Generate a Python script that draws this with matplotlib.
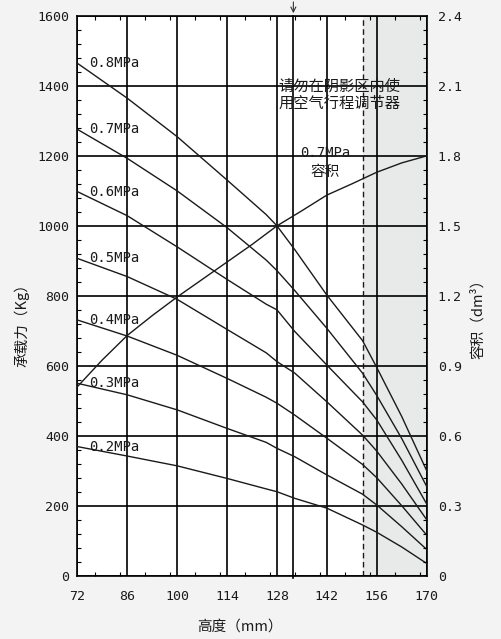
"""
Air spring load chart: load (Kg) vs height (mm) for several pressures,
plus the 0.7MPa volume curve on the right axis (dm³).
"""
import numpy as np
import matplotlib

matplotlib.use("Agg")
import matplotlib.pyplot as plt
from matplotlib.ticker import MultipleLocator

CJK = ["Noto Sans CJK SC", "DejaVu Sans"]
MONO = "DejaVu Sans Mono"

# Height samples (mm) shared by all load curves
heights = [72, 86, 100, 114, 125, 128, 133, 142, 152, 156, 163, 170]

# Load (Kg) per pressure
pressures = ["0.8MPa", "0.7MPa", "0.6MPa", "0.5MPa", "0.4MPa", "0.3MPa", "0.2MPa"]
load_08 = [1465, 1365, 1255, 1131, 1032, 1000, 932, 802, 672, 595, 455, 300]
load_07 = [1276, 1193, 1100, 995, 902, 872, 815, 707, 579, 515, 392, 255]
load_06 = [1098, 1029, 940, 847, 776, 760, 698, 602, 497, 445, 330, 205]
load_05 = [907, 855, 790, 704, 637, 612, 579, 497, 402, 356, 262, 160]
load_04 = [731, 685, 630, 564, 510, 493, 459, 393, 318, 280, 200, 116]
load_03 = [550, 517, 474, 421, 381, 364, 340, 288, 233, 202, 140, 75]
load_02 = [369, 342, 314, 278, 248, 240, 221, 193, 145, 124, 82, 35]
loads = [load_08, load_07, load_06, load_05, load_04, load_03, load_02]

# Volume curve at 0.7MPa (dm³)
vol_heights = [72, 79, 86, 93, 100, 107, 114, 121, 128, 135, 142, 149, 156, 163, 170]
volume = [0.81, 0.925, 1.03, 1.115, 1.195, 1.27, 1.345, 1.42, 1.50, 1.565,
          1.632, 1.68, 1.73, 1.77, 1.80]

x_ticks = [72, 86, 100, 114, 128, 142, 156, 170]
load_ticks = [0, 200, 400, 600, 800, 1000, 1200, 1400, 1600]
vol_ticks = [0, 0.3, 0.6, 0.9, 1.2, 1.5, 1.8, 2.1, 2.4]

stroke_limit = 152      # start of the shaded "do not use" zone
design_height = 132.6   # marked with the arrow at the top

note = "请勿在阴影区内使\n用空气行程调节器"

BG = "#f3f3f3"
SHADE = "#e8e9e9"
INK = "#1a1a1a"

fig = plt.figure(figsize=(5.02, 6.39), dpi=100, facecolor=BG)
ax = fig.add_axes([0.154, 0.0991, 0.696, 0.8759])
ax.set_facecolor("white")
ax.set_xlim(72, 170)
ax.set_ylim(0, 1600)

ax.axvspan(stroke_limit, 170, color=SHADE, zorder=0, lw=0)
ax.axvline(stroke_limit, color=INK, lw=1.0, ls=(0, (4, 2.5)), zorder=2)

ax.set_xticks(x_ticks)
ax.set_yticks(load_ticks)
ax.xaxis.set_minor_locator(MultipleLocator(7))
ax.yaxis.set_minor_locator(MultipleLocator(40))
ax.grid(True, which="major", color="black", lw=1.2, zorder=1)
ax.set_axisbelow(True)
ax.tick_params(which="major", length=0, pad=6, labelsize=9.5, labelcolor=INK)
ax.tick_params(axis="x", which="major", pad=10)
ax.tick_params(which="minor", direction="in", length=3, width=0.8,
               top=True, bottom=True, left=True, right=False)
for lab in ax.get_xticklabels() + ax.get_yticklabels():
    lab.set_family(MONO)
for sp in ax.spines.values():
    sp.set_color("black")
    sp.set_linewidth(1.2)

# design height line with the arrow above the frame
ax.plot([design_height, design_height], [-8, 1600], color="black", lw=1.2,
        clip_on=False, zorder=2)
ax.annotate("", xy=(design_height, 1600), xytext=(design_height, 1648),
            arrowprops=dict(arrowstyle="->", lw=0.8, color="#333333",
                            mutation_scale=9),
            annotation_clip=False)

# load curves with their pressure labels at the left end
for name, vals in zip(pressures, loads):
    ax.plot(heights, vals, color=INK, lw=1.0, zorder=3)
    ax.text(75.3, vals[0], name, family=MONO, fontsize=10, color=INK,
            va="center", ha="left", zorder=4)

# right axis: volume
ax2 = ax.twinx()
ax2.set_position(ax.get_position())
ax2.set_ylim(0, 2.4)
ax2.set_yticks(vol_ticks)
ax2.set_yticklabels([f"{v:.1f}" if v else "0" for v in vol_ticks])
ax2.yaxis.set_minor_locator(MultipleLocator(0.06))
ax2.tick_params(which="major", length=0, pad=8, labelsize=9.5, labelcolor=INK)
ax2.tick_params(which="minor", direction="in", length=3, width=0.8)
for lab in ax2.get_yticklabels():
    lab.set_family(MONO)
for sp in ax2.spines.values():
    sp.set_visible(False)
ax2.plot(vol_heights, volume, color=INK, lw=1.0, zorder=3)

ax.text(141.5, 1209, "0.7MPa", family=MONO, fontsize=10, color=INK,
        ha="center", va="center", zorder=4)
ax.text(141.5, 1155, "容积", family=CJK, fontsize=10.5, color=INK,
        ha="center", va="center", zorder=4)
ax.text(145.5, 1375, note, family=CJK, fontsize=11, color=INK,
        ha="center", va="center", linespacing=0.95, zorder=4)

fig.text(240 / 502, 1 - 627 / 639, "高度（mm）", family=CJK, fontsize=10.5,
         color=INK, ha="center", va="center")
fig.text(22 / 502, 1 - 322 / 639, "承载力（Kg）", family=CJK, fontsize=10.5,
         color=INK, ha="center", va="center", rotation=90)
fig.text(478 / 502, 1 - 315 / 639, "容积（dm³）", family=CJK, fontsize=10.5,
         color=INK, ha="center", va="center", rotation=90)

fig.savefig("out.png", dpi=100, facecolor=BG)
